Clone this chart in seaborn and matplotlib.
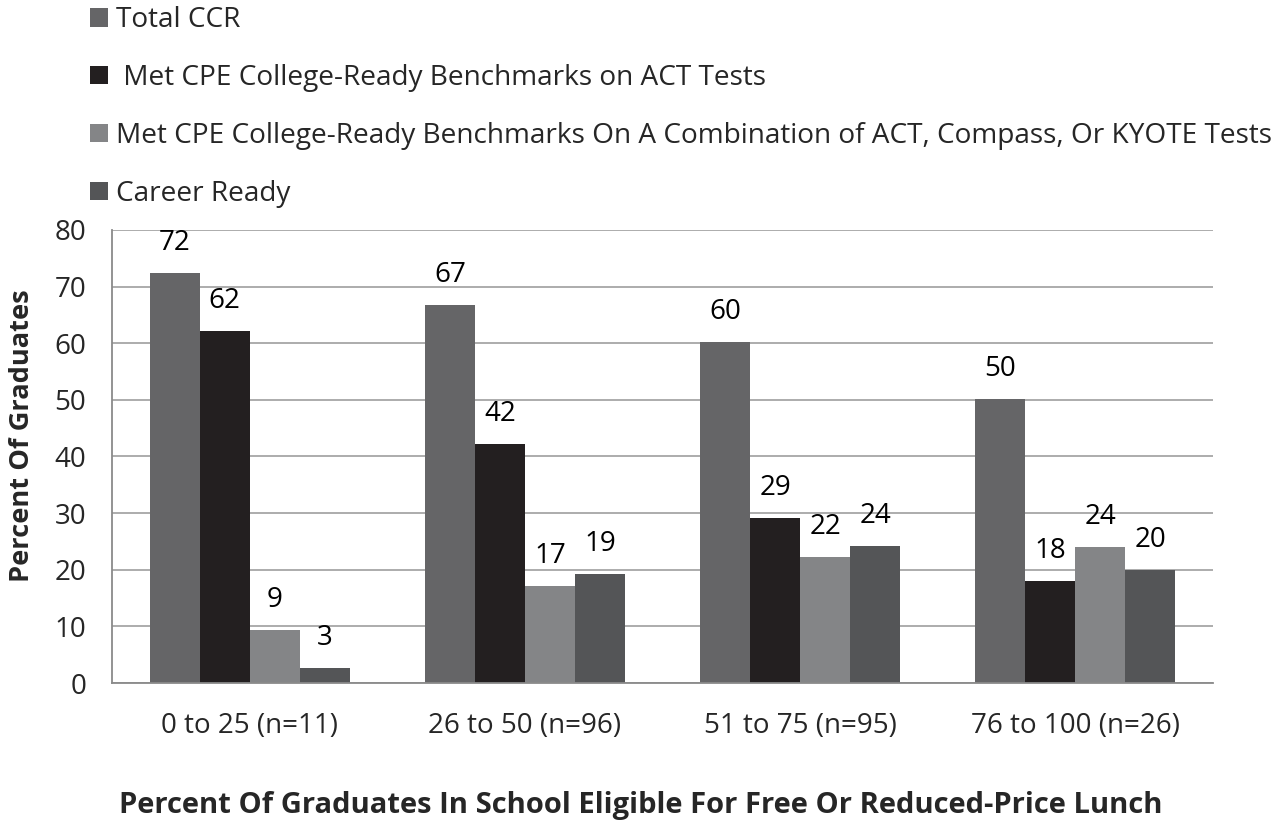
import pandas as pd
import matplotlib
matplotlib.use("Agg")
import matplotlib.pyplot as plt
from matplotlib.patches import Patch
import seaborn as sns

sns.set_style("white")
plt.rcParams['font.family'] = ['Open Sans', 'DejaVu Sans']

groups = ['0 to 25 (n=11)', '26 to 50 (n=96)', '51 to 75 (n=95)', '76 to 100 (n=26)']
series = ['Total CCR',
          ' Met CPE College-Ready Benchmarks on ACT Tests',
          'Met CPE College-Ready Benchmarks On A Combination of ACT, Compass, Or KYOTE Tests',
          'Career Ready']
total_ccr = [72.4, 66.8, 60.2, 50.1]
act_tests = [62.1, 42.2, 29.1, 18.0]
combination = [9.3, 17.2, 22.3, 24.1]
career_ready = [2.7, 19.2, 24.2, 20.0]
colors = ['#656567', '#231f20', '#848587', '#545557']

rows = []
for name, vals in zip(series, [total_ccr, act_tests, combination, career_ready]):
    for g, v in zip(groups, vals):
        rows.append({'group': g, 'series': name, 'value': v})
df = pd.DataFrame(rows)

fig = plt.figure(figsize=(12.85, 8.22), dpi=100)
ax = fig.add_axes([112 / 1285, 1 - 683 / 822, 1101 / 1285, 453 / 822])

sns.barplot(data=df, x='group', y='value', hue='series', hue_order=series,
            palette=colors, width=0.727, saturation=1, ax=ax, legend=False,
            edgecolor='none', linewidth=0)

for cont in ax.containers:
    for bar in cont:
        h = bar.get_height()
        ax.annotate(f"{h:.0f}", (bar.get_x() + bar.get_width() / 2, h),
                    xytext=(0, 11.5), textcoords='offset points',
                    ha='center', va='bottom', fontsize=20, color='black')

ax.set_ylim(0, 80)
ax.set_xlim(-0.5, 3.5)
ax.set_yticks(range(0, 81, 10))
ax.yaxis.grid(True, color='#a6a6a6', linewidth=1.3)
ax.set_axisbelow(True)
for s in ['top', 'right']:
    ax.spines[s].set_visible(False)
for s in ['left', 'bottom']:
    ax.spines[s].set_color('#8a8a8a')
    ax.spines[s].set_linewidth(1.3)

ax.tick_params(axis='y', which='major', length=8.6, width=1.3, color='#8a8a8a',
               labelsize=20, pad=10)
ax.tick_params(axis='x', which='major', length=0, labelsize=20, pad=21)
ax.set_xticks([-0.5, 0.5, 1.5, 2.5, 3.5], minor=True)
ax.tick_params(axis='x', which='minor', length=8, width=1.3, color='#8a8a8a')

ax.set_xlabel('')
ax.set_ylabel('')
fig.text(22 / 1285, 1 - 436 / 822, 'Percent Of Graduates', rotation=90,
         ha='center', va='center', fontsize=19.6, fontweight='bold')
fig.text(641 / 1285, 1 - 805 / 822,
         'Percent Of Graduates In School Eligible For Free Or Reduced-Price Lunch',
         ha='center', va='center', fontsize=21, fontweight='bold')

handles = [Patch(facecolor=c, edgecolor='none') for c in colors]
fig.legend(handles, series, loc='upper left', bbox_to_anchor=(79 / 1285, 1.006),
           frameon=False, fontsize=20.2, handlelength=0.62, handleheight=0.62,
           handletextpad=0.3, labelspacing=1.06, borderaxespad=0)

fig.savefig('out.png', dpi=100)
